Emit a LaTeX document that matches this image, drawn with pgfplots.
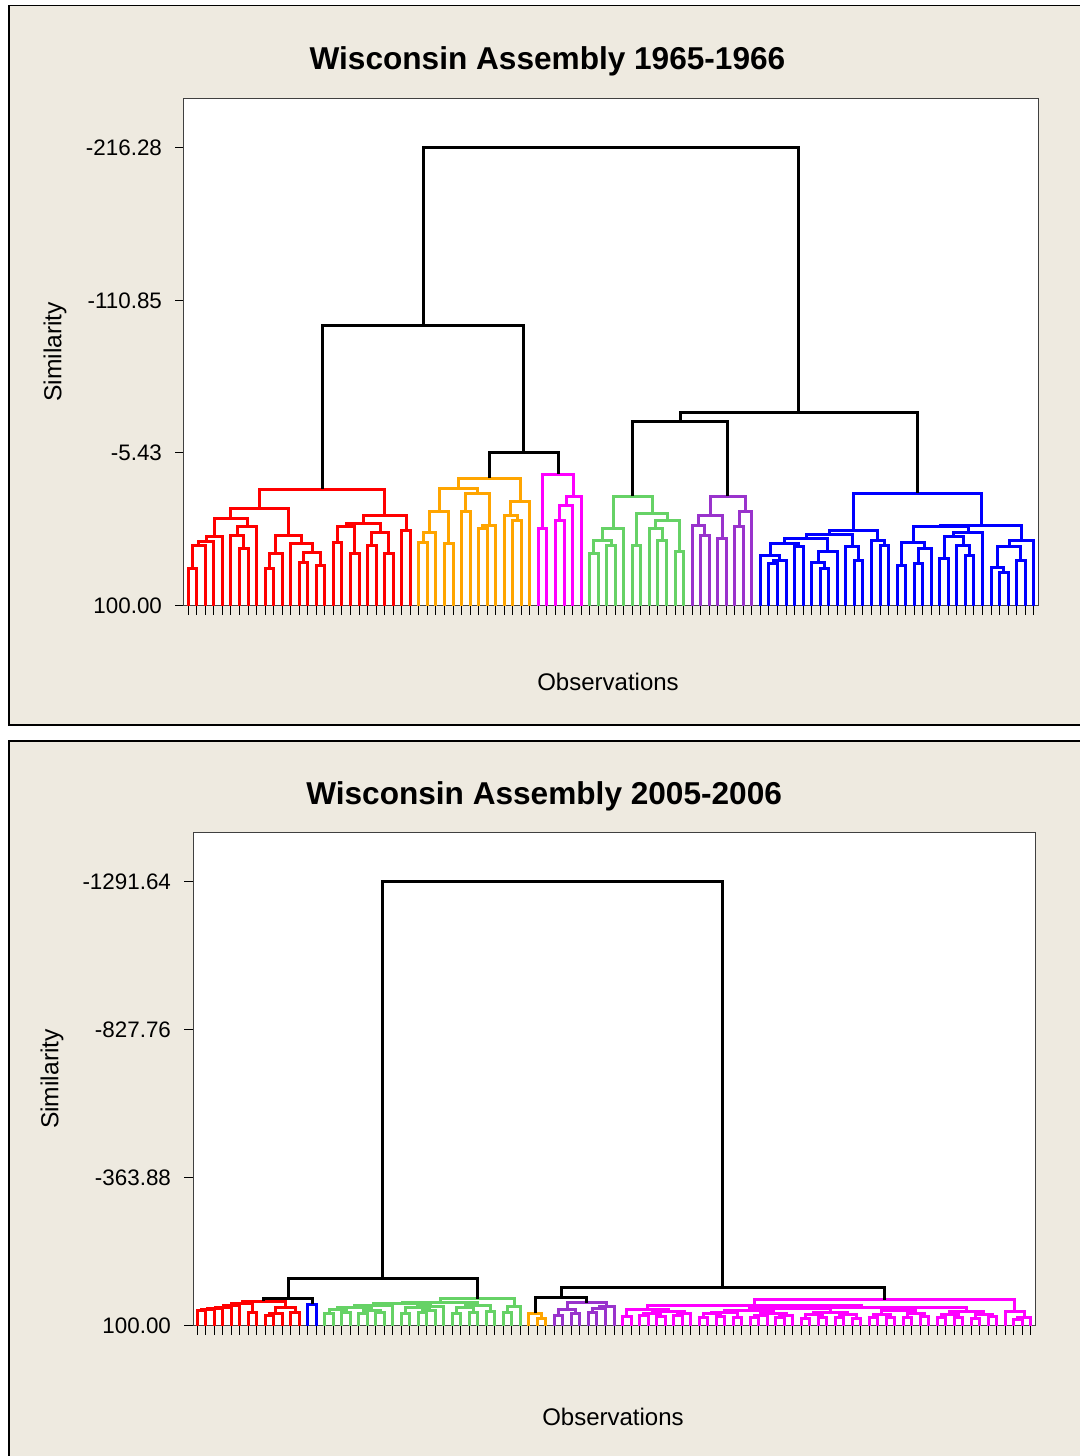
\documentclass[border=0pt]{standalone}
\usepackage{fontspec}
\setmainfont{Liberation Sans}
\usepackage{pgfplots}
\pgfplotsset{compat=1.18}
\definecolor{panelbg}{RGB}{238,234,224}
\definecolor{dred}{RGB}{255,0,0}
\definecolor{dorange}{RGB}{255,165,0}
\definecolor{dmag}{RGB}{255,0,255}
\definecolor{dgreen}{RGB}{102,210,102}
\definecolor{dpurple}{RGB}{153,51,204}
\definecolor{dblue}{RGB}{0,0,255}
\pgfplotsset{dendro/.style={
  scale only axis, anchor=south west, y dir=reverse,
  axis background/.style={fill=white},
  axis line style={black!75, line width=0.5pt},
  tick align=outside, tick pos=left, major tick length=4.5pt,
  tick style={black, line width=0.5pt},
  xticklabels={}, unbounded coords=jump,
  every axis plot/.append style={line width=1.5pt, line join=miter, mark=none},
  yticklabel style={font=\fontsize{11.2}{13}\selectfont, xshift=-3pt},
}}
\begin{document}
\begin{tikzpicture}
\useasboundingbox (0,0) rectangle (540pt,-728pt);
\fill[white] (0,0) rectangle (540pt,-728pt);
\filldraw[fill=panelbg, draw=black, line width=0.8pt] (4.5pt,-2.75pt) rectangle (550pt,-362.5pt);
\filldraw[fill=panelbg, draw=black, line width=0.8pt] (4.5pt,-370.5pt) rectangle (550pt,-740pt);

% ---------------- 1965-1966 ----------------
\begin{axis}[dendro, at={(92pt,-302.75pt)}, width=427pt, height=253.75pt,
  xmin=0.5, xmax=100.5, ymin=-250.8, ymax=100,
  xtick={1,...,100},
  ytick={-216.28,-110.85,-5.43,100}, yticklabels={-216.28,-110.85,-5.43,100.00},
  title={Wisconsin Assembly 1965-1966},
  title style={at={(axis description cs:0.4256,1.0316)}, anchor=base, font=\bfseries\fontsize{15.8}{18}\selectfont},
  xlabel={Observations}, ylabel={Similarity},
  every axis x label/.style={at={(axis description cs:0.4965,-0.1507)}, anchor=center, font=\fontsize{12}{14}\selectfont},
  every axis y label/.style={at={(axis description cs:-0.1511,0.5)}, rotate=90, anchor=center, font=\fontsize{12.3}{14}\selectfont},
]
\addplot[dred] coordinates {
(1,100)(1,74.5)(2,74.5)(2,100)(nan,nan)
(1.5,74.5)(1.5,58.4)(3,58.4)(3,100)(nan,nan)
(2.25,58.4)(2.25,55.6)(4,55.6)(4,100)(nan,nan)
(3.13,55.6)(3.13,52.6)(5,52.6)(5,100)(nan,nan)
(7,100)(7,60.7)(8,60.7)(8,100)(nan,nan)
(6,100)(6,51.4)(7.5,51.4)(7.5,60.7)(nan,nan)
(6.75,51.4)(6.75,45.7)(9,45.7)(9,100)(nan,nan)
(4.06,52.6)(4.06,39.9)(7.88,39.9)(7.88,45.7)(nan,nan)
(10,100)(10,74.5)(11,74.5)(11,100)(nan,nan)
(10.5,74.5)(10.5,64.1)(12,64.1)(12,100)(nan,nan)
(14,100)(14,70)(15,70)(15,100)(nan,nan)
(16,100)(16,72.3)(17,72.3)(17,100)(nan,nan)
(14.5,70)(14.5,63.5)(16.5,63.5)(16.5,72.3)(nan,nan)
(13,100)(13,57.2)(15.5,57.2)(15.5,63.5)(nan,nan)
(11.25,64.1)(11.25,51.4)(14.25,51.4)(14.25,57.2)(nan,nan)
(5.97,39.9)(5.97,32.9)(12.75,32.9)(12.75,51.4)(nan,nan)
(18,100)(18,56.1)(19,56.1)(19,100)(nan,nan)
(20,100)(20,64.1)(21,64.1)(21,100)(nan,nan)
(18.5,56.1)(18.5,45.7)(20.5,45.7)(20.5,64.1)(nan,nan)
(22,100)(22,58.4)(23,58.4)(23,100)(nan,nan)
(24,100)(24,64.1)(25,64.1)(25,100)(nan,nan)
(22.5,58.4)(22.5,49.2)(24.5,49.2)(24.5,64.1)(nan,nan)
(19.5,45.7)(19.5,43.4)(23.5,43.4)(23.5,49.2)(nan,nan)
(26,100)(26,48)(27,48)(27,100)(nan,nan)
(21.5,43.4)(21.5,37.6)(26.5,37.6)(26.5,48)(nan,nan)
(9.36,32.9)(9.36,19.5)(24,19.5)(24,37.6)
};
\addplot[dorange] coordinates {
(28,100)(28,56.1)(29,56.1)(29,100)(nan,nan)
(28.5,56.1)(28.5,49.2)(30,49.2)(30,100)(nan,nan)
(31,100)(31,57)(32,57)(32,100)(nan,nan)
(29.25,49.2)(29.25,35.3)(31.5,35.3)(31.5,57)(nan,nan)
(33,100)(33,35.3)(34,35.3)(34,100)(nan,nan)
(35,100)(35,46.8)(36,46.8)(36,100)(nan,nan)
(35.5,46.8)(35.5,44.5)(37,44.5)(37,100)(nan,nan)
(33.5,35.3)(33.5,22.5)(36.25,22.5)(36.25,44.5)(nan,nan)
(30.38,35.3)(30.38,19.1)(34.88,19.1)(34.88,22.5)(nan,nan)
(39,100)(39,41)(40,41)(40,100)(nan,nan)
(38,100)(38,37.6)(39.5,37.6)(39.5,41)(nan,nan)
(38.75,37.6)(38.75,28.3)(41,28.3)(41,100)(nan,nan)
(32.63,19.1)(32.63,11.9)(39.88,11.9)(39.88,28.3)
};
\addplot[dmag] coordinates {
(42,100)(42,46.8)(43,46.8)(43,100)(nan,nan)
(44,100)(44,41)(45,41)(45,100)(nan,nan)
(44.5,41)(44.5,30.6)(46,30.6)(46,100)(nan,nan)
(45.25,30.6)(45.25,24.9)(47,24.9)(47,100)(nan,nan)
(42.5,46.8)(42.5,9.1)(46.13,9.1)(46.13,24.9)
};
\addplot[dgreen] coordinates {
(48,100)(48,64.1)(49,64.1)(49,100)(nan,nan)
(50,100)(50,58.4)(51,58.4)(51,100)(nan,nan)
(48.5,64.1)(48.5,54.9)(50.5,54.9)(50.5,58.4)(nan,nan)
(49.5,54.9)(49.5,46.8)(52,46.8)(52,100)(nan,nan)
(53,100)(53,58.4)(54,58.4)(54,100)(nan,nan)
(56,100)(56,54.9)(57,54.9)(57,100)(nan,nan)
(55,100)(55,46.8)(56.5,46.8)(56.5,54.9)(nan,nan)
(58,100)(58,63)(59,63)(59,100)(nan,nan)
(55.75,46.8)(55.75,41)(58.5,41)(58.5,63)(nan,nan)
(53.5,58.4)(53.5,36.4)(57.13,36.4)(57.13,41)(nan,nan)
(50.75,46.8)(50.75,24.4)(55.32,24.4)(55.32,36.4)
};
\addplot[dpurple] coordinates {
(61,100)(61,51.4)(62,51.4)(62,100)(nan,nan)
(60,100)(60,44.5)(61.5,44.5)(61.5,51.4)(nan,nan)
(63,100)(63,53.8)(64,53.8)(64,100)(nan,nan)
(60.75,44.5)(60.75,37.6)(63.5,37.6)(63.5,53.8)(nan,nan)
(65,100)(65,45.7)(66,45.7)(66,100)(nan,nan)
(65.5,45.7)(65.5,35.3)(67,35.3)(67,100)(nan,nan)
(62.13,37.6)(62.13,24.4)(66.25,24.4)(66.25,35.3)
};
\addplot[dblue] coordinates {
(69,100)(69,71.1)(70,71.1)(70,100)(nan,nan)
(69.5,71.1)(69.5,68.8)(71,68.8)(71,100)(nan,nan)
(68,100)(68,65.3)(70.25,65.3)(70.25,68.8)(nan,nan)
(72,100)(72,59.5)(73,59.5)(73,100)(nan,nan)
(69.13,65.3)(69.13,57.2)(72.5,57.2)(72.5,59.5)(nan,nan)
(75,100)(75,74.5)(76,74.5)(76,100)(nan,nan)
(74,100)(74,70)(75.5,70)(75.5,74.5)(nan,nan)
(74.75,70)(74.75,63)(77,63)(77,100)(nan,nan)
(70.82,57.2)(70.82,53.8)(75.88,53.8)(75.88,63)(nan,nan)
(79,100)(79,68.8)(80,68.8)(80,100)(nan,nan)
(78,100)(78,59.5)(79.5,59.5)(79.5,68.8)(nan,nan)
(73.35,53.8)(73.35,50.8)(78.75,50.8)(78.75,59.5)(nan,nan)
(82,100)(82,58.4)(83,58.4)(83,100)(nan,nan)
(81,100)(81,54.9)(82.5,54.9)(82.5,58.4)(nan,nan)
(76.05,50.8)(76.05,48)(81.75,48)(81.75,54.9)(nan,nan)
(84,100)(84,72.3)(85,72.3)(85,100)(nan,nan)
(86,100)(86,71.1)(87,71.1)(87,100)(nan,nan)
(86.5,71.1)(86.5,60.7)(88,60.7)(88,100)(nan,nan)
(84.5,72.3)(84.5,56.1)(87.25,56.1)(87.25,60.7)(nan,nan)
(89,100)(89,67.6)(90,67.6)(90,100)(nan,nan)
(92,100)(92,65.3)(93,65.3)(93,100)(nan,nan)
(91,100)(91,58.4)(92.5,58.4)(92.5,65.3)(nan,nan)
(89.5,67.6)(89.5,52.6)(91.75,52.6)(91.75,58.4)(nan,nan)
(90.63,52.6)(90.63,49.2)(94,49.2)(94,100)(nan,nan)
(85.88,56.1)(85.88,45.7)(92.32,45.7)(92.32,49.2)(nan,nan)
(96,100)(96,76.9)(97,76.9)(97,100)(nan,nan)
(95,100)(95,73.4)(96.5,73.4)(96.5,76.9)(nan,nan)
(98,100)(98,68.8)(99,68.8)(99,100)(nan,nan)
(95.75,73.4)(95.75,59.5)(98.5,59.5)(98.5,68.8)(nan,nan)
(97.13,59.5)(97.13,54.9)(100,54.9)(100,100)(nan,nan)
(89.1,45.7)(89.1,44.5)(98.57,44.5)(98.57,54.9)(nan,nan)
(78.9,48)(78.9,22.3)(93.84,22.3)(93.84,44.5)
};
\addplot[black] coordinates {
(36.26,11.9)(36.26,-6.1)(44.32,-6.1)(44.32,9.1)(nan,nan)
(16.68,19.5)(16.68,-93.5)(40.29,-93.5)(40.29,-6.1)(nan,nan)
(53.04,24.4)(53.04,-26.9)(64.19,-26.9)(64.19,24.4)(nan,nan)
(58.62,-26.9)(58.62,-33.2)(86.37,-33.2)(86.37,22.3)(nan,nan)
(28.49,-93.5)(28.49,-216.28)(72.5,-216.28)(72.5,-33.2)
};
\end{axis}

% ---------------- 2005-2006 ----------------
\begin{axis}[dendro, at={(96.5pt,-662.75pt)}, width=421pt, height=246.75pt,
  xmin=0.5, xmax=99.5, ymin=-1446.8, ymax=100,
  xtick={1,...,99},
  ytick={-1291.64,-827.76,-363.88,100}, yticklabels={-1291.64,-827.76,-363.88,100.00},
  title={Wisconsin Assembly 2005-2006},
  title style={at={(axis description cs:0.417,1.0324)}, anchor=base, font=\bfseries\fontsize{15.8}{18}\selectfont},
  xlabel={Observations}, ylabel={Similarity},
  every axis x label/.style={at={(axis description cs:0.4988,-0.1854)}, anchor=center, font=\fontsize{12}{14}\selectfont},
  every axis y label/.style={at={(axis description cs:-0.1675,0.4995)}, rotate=90, anchor=center, font=\fontsize{12.3}{14}\selectfont},
]
\addplot[dred] coordinates {
(1,100)(1,53)(2,53)(2,100)(nan,nan)
(1.5,53)(1.5,50.4)(3,50.4)(3,100)(nan,nan)
(2.25,50.4)(2.25,47.8)(4,47.8)(4,100)(nan,nan)
(3.13,47.8)(3.13,42.7)(5,42.7)(5,100)(nan,nan)
(4.07,42.7)(4.07,37.4)(6,37.4)(6,100)(nan,nan)
(7,100)(7,58.3)(8,58.3)(8,100)(nan,nan)
(5.04,37.4)(5.04,32)(7.5,32)(7.5,58.3)(nan,nan)
(9,100)(9,68.7)(10,68.7)(10,100)(nan,nan)
(9.5,68.7)(9.5,63.4)(11,63.4)(11,100)(nan,nan)
(12,100)(12,58.3)(13,58.3)(13,100)(nan,nan)
(10.25,63.4)(10.25,42.7)(12.5,42.7)(12.5,58.3)(nan,nan)
(6.27,32)(6.27,23.8)(11.38,23.8)(11.38,42.7)
};
\addplot[dblue] coordinates {(14,100)(14,34)(15,34)(15,100)};
\addplot[dgreen] coordinates {
(16,100)(16,63)(17,63)(17,100)(nan,nan)
(18,100)(18,58)(19,58)(19,100)(nan,nan)
(16.5,63)(16.5,50)(18.5,50)(18.5,58)(nan,nan)
(20,100)(20,63)(21,63)(21,100)(nan,nan)
(22,100)(22,60)(23,60)(23,100)(nan,nan)
(20.5,63)(20.5,52)(22.5,52)(22.5,60)(nan,nan)
(17.5,50)(17.5,42)(21.5,42)(21.5,52)(nan,nan)
(19.5,42)(19.5,37)(24,37)(24,100)(nan,nan)
(25,100)(25,63)(26,63)(26,100)(nan,nan)
(27,100)(27,60)(28,60)(28,100)(nan,nan)
(27.5,60)(27.5,53)(29,53)(29,100)(nan,nan)
(25.5,63)(25.5,45)(28.25,45)(28.25,53)(nan,nan)
(26.88,45)(26.88,40)(30,40)(30,100)(nan,nan)
(21.75,37)(21.75,32)(28.44,32)(28.44,40)(nan,nan)
(31,100)(31,63)(32,63)(32,100)(nan,nan)
(33,100)(33,58)(34,58)(34,100)(nan,nan)
(31.5,63)(31.5,45)(33.5,45)(33.5,58)(nan,nan)
(35,100)(35,55)(36,55)(36,100)(nan,nan)
(32.5,45)(32.5,37)(35.5,37)(35.5,55)(nan,nan)
(25.1,32)(25.1,27)(34,27)(34,37)(nan,nan)
(37,100)(37,58)(38,58)(38,100)(nan,nan)
(37.5,58)(37.5,40)(39,40)(39,100)(nan,nan)
(29.55,27)(29.55,16.5)(38.25,16.5)(38.25,40)
};
\addplot[dorange] coordinates {
(41,100)(41,78)(42,78)(42,100)(nan,nan)
(40,100)(40,62)(41.5,62)(41.5,78)
};
\addplot[dpurple] coordinates {
(43,100)(43,68)(44,68)(44,100)(nan,nan)
(45,100)(45,63)(46,63)(46,100)(nan,nan)
(43.5,68)(43.5,50)(45.5,50)(45.5,63)(nan,nan)
(47,100)(47,58)(48,58)(48,100)(nan,nan)
(47.5,58)(47.5,48)(49,48)(49,100)(nan,nan)
(48.25,48)(48.25,40)(50,40)(50,100)(nan,nan)
(44.5,50)(44.5,28)(49.13,28)(49.13,40)
};
\addplot[dmag] coordinates {
(51,100)(51,72)(52,72)(52,100)(nan,nan)
(53,100)(53,70)(54,70)(54,100)(nan,nan)
(55,100)(55,72)(56,72)(56,100)(nan,nan)
(53.5,70)(53.5,62)(55.5,62)(55.5,72)(nan,nan)
(57,100)(57,68)(58,68)(58,100)(nan,nan)
(57.5,68)(57.5,62)(59,62)(59,100)(nan,nan)
(54.5,62)(54.5,56)(58.25,56)(58.25,62)(nan,nan)
(51.5,72)(51.5,50.8)(56.38,50.8)(56.38,56)(nan,nan)
(60,100)(60,75)(61,75)(61,100)(nan,nan)
(62,100)(62,72)(63,72)(63,100)(nan,nan)
(60.5,75)(60.5,63)(62.5,63)(62.5,72)(nan,nan)
(64,100)(64,74)(65,74)(65,100)(nan,nan)
(61.5,63)(61.5,58)(64.5,58)(64.5,74)(nan,nan)
(66,100)(66,76)(67,76)(67,100)(nan,nan)
(66.5,76)(66.5,70)(68,70)(68,100)(nan,nan)
(69,100)(69,74)(70,74)(70,100)(nan,nan)
(69.5,74)(69.5,69)(71,69)(71,100)(nan,nan)
(67.25,70)(67.25,61)(70.25,61)(70.25,69)(nan,nan)
(63,58)(63,52)(68.75,52)(68.75,61)(nan,nan)
(72,100)(72,78)(73,78)(73,100)(nan,nan)
(74,100)(74,76)(75,76)(75,100)(nan,nan)
(72.5,78)(72.5,66)(74.5,66)(74.5,76)(nan,nan)
(76,100)(76,75)(77,75)(77,100)(nan,nan)
(78,100)(78,77)(79,77)(79,100)(nan,nan)
(76.5,75)(76.5,67)(78.5,67)(78.5,77)(nan,nan)
(73.5,66)(73.5,58)(77.5,58)(77.5,67)(nan,nan)
(65.88,52)(65.88,46)(75.5,46)(75.5,58)(nan,nan)
(80,100)(80,76)(81,76)(81,100)(nan,nan)
(82,100)(82,74)(83,74)(83,100)(nan,nan)
(80.5,76)(80.5,64)(82.5,64)(82.5,74)(nan,nan)
(84,100)(84,75)(85,75)(85,100)(nan,nan)
(86,100)(86,73)(87,73)(87,100)(nan,nan)
(84.5,75)(84.5,63)(86.5,63)(86.5,73)(nan,nan)
(81.5,64)(81.5,54)(85.5,54)(85.5,63)(nan,nan)
(88,100)(88,74)(89,74)(89,100)(nan,nan)
(90,100)(90,76)(91,76)(91,100)(nan,nan)
(88.5,74)(88.5,65)(90.5,65)(90.5,76)(nan,nan)
(92,100)(92,77)(93,77)(93,100)(nan,nan)
(94,100)(94,72)(95,72)(95,100)(nan,nan)
(92.5,77)(92.5,64)(94.5,64)(94.5,72)(nan,nan)
(89.5,65)(89.5,55)(93.5,55)(93.5,64)(nan,nan)
(83.5,54)(83.5,45)(91.5,45)(91.5,55)(nan,nan)
(70.69,46)(70.69,42)(87.5,42)(87.5,45)(nan,nan)
(53.94,50.8)(53.94,37.3)(79.1,37.3)(79.1,42)(nan,nan)
(97,100)(97,80)(98,80)(98,100)(nan,nan)
(97.5,80)(97.5,74)(99,74)(99,100)(nan,nan)
(96,100)(96,57)(98.25,57)(98.25,74)(nan,nan)
(66.52,37.3)(66.52,18.5)(97.13,18.5)(97.13,57)
};
\addplot[black] coordinates {
(8.83,23.8)(8.83,15.4)(14.5,15.4)(14.5,34)(nan,nan)
(11.67,15.4)(11.67,-47.3)(33.9,-47.3)(33.9,16.5)(nan,nan)
(40.75,62)(40.75,12.2)(46.82,12.2)(46.82,28)(nan,nan)
(43.79,12.2)(43.79,-19.1)(81.83,-19.1)(81.83,18.5)(nan,nan)
(22.79,-47.3)(22.79,-1291.64)(62.81,-1291.64)(62.81,-19.1)
};
\end{axis}
\end{tikzpicture}
\end{document}
